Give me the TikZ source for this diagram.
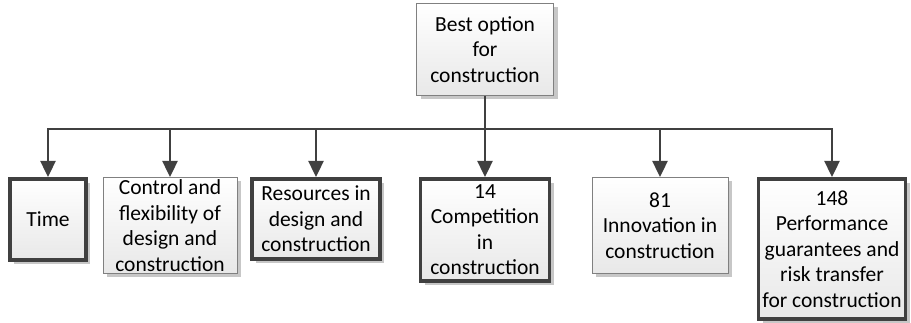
\documentclass[tikz,border=0pt]{standalone}
\usepackage{fontspec}
\setmainfont{Carlito}
\usetikzlibrary{arrows.meta}
\usetikzlibrary{shadows}
\usepackage{tikz}

\begin{document}
\begin{tikzpicture}[x=1pt, y=-1pt, box/.style={rectangle, draw=black!50, line width=0.8pt, top color=white, bottom color=black!9, align=center, anchor=north, inner sep=0pt, drop shadow={shadow xshift=4pt, shadow yshift=-4pt, fill=black!22, opacity=1}}]
    \tikzset{heavy/.style={box, draw=black!75, line width=3.6pt}}
    \tikzset{link/.style={draw=black!75, line width=2.4pt}}
    \fontsize{21.5}{25.5}\selectfont
    \useasboundingbox (0,0) rectangle (911,323);

    \node[box, minimum width=137, minimum height=92] (0) at (485,3) {Best option\\for\\construction};
    \coordinate (bar) at (485,129);

    \node[heavy, minimum width=76, minimum height=81] (1) at (48,177) {Time};
    \node[box, minimum width=134, minimum height=96] (2) at (170,177) {Control and\\flexibility of\\design and\\construction};
    \node[heavy, minimum width=128, minimum height=80] (3) at (316,177) {Resources in\\design and\\construction};
    \node[heavy, minimum width=129, minimum height=102] (4) at (485,177) {14\\Competition\\in\\construction};
    \node[box, minimum width=136, minimum height=96] (5) at (660,177) {81\\Innovation in\\construction};
    \node[heavy, minimum width=147, minimum height=140] (6) at (832,177) {148\\Performance\\guarantees and\\risk transfer\\for construction};

    \draw[link] (0.south) -- (bar);
    \foreach \s in {1,...,6} {
    \draw[link, -{Triangle[width=15pt, length=16pt]}] (bar) -| (\s.north);
    }
\end{tikzpicture}
\end{document}
